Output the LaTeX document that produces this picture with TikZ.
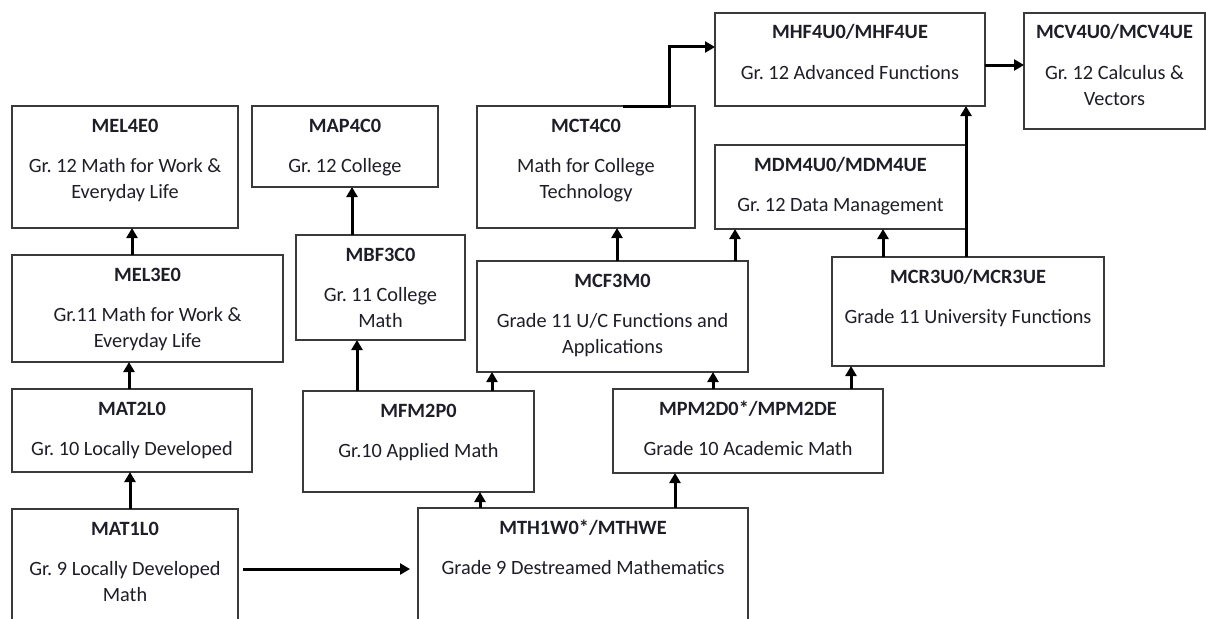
\documentclass[tikz,border=0pt]{standalone}
\usepackage{fontspec}
\setmainfont{Carlito}
\usetikzlibrary{arrows.meta}
\frenchspacing
\definecolor{edge}{HTML}{3A3A3A}
\definecolor{ink}{HTML}{1E1E28}
\tikzset{
  box/.style={draw=edge, line width=1.5pt, anchor=north west, inner sep=0pt, outer sep=0pt},
  txt/.style={text=ink, inner sep=0pt, align=center, font=\fontsize{20.3}{26}\selectfont},
  arr/.style={draw=black, line width=3pt, -{Triangle[length=10pt,width=11pt]}},
}
% \course{name}{left}{top}{right}{bottom}{code}{description}
% code baseline sits 26pt below the top edge, first description line 66pt below it
\newcommand\course[7]{%
  \node[box, minimum width={(#4-#2)*1pt}, minimum height={(#5-#3)*1pt}] (#1) at (#2,#3) {};
  \node[txt, anchor=base] (#1-t) at ([yshift=-26pt]#1.north) {\textbf{#6}};
  \node[txt, anchor=north] (#1-b) at ([yshift=-47.8pt]#1.north) {\strut#7};
}
\begin{document}
\begin{tikzpicture}[x=1pt, y=-1pt]
\useasboundingbox (0,0) rectangle (1206,618);
\clip (0,0) rectangle (1206,618);
\fill[white] (0,0) rectangle (1206,618);

% grade 12
\course{mel4}{12}{106}{238}{228}{MEL4E0}{Gr. 12 Math for Work \&\\Everyday Life}
\course{map4}{252}{106}{438}{187}{MAP4C0}{Gr. 12 College}
\course{mct4}{477}{106}{695}{228}{MCT4C0}{Math for College\\Technology}
\course{mhf4}{715}{13}{985}{106}{MHF4U0/MHF4UE}{Gr. 12 Advanced Functions}
\course{mdm4}{715}{145}{966}{229}{MDM4U0/MDM4UE}{Gr. 12 Data Management}
\course{mcv4}{1024}{13}{1205}{129}{MCV4U0/MCV4UE}{Gr. 12 Calculus \&\\Vectors}
% grade 11
\course{mel3}{12}{255}{283}{362}{MEL3E0}{Gr.11 Math for Work \&\\Everyday Life}
\course{mbf3}{296}{235}{465}{340}{MBF3C0}{Gr. 11 College\\Math}
\course{mcf3}{477}{261}{748}{372}{MCF3M0}{Grade 11 U/C Functions and\\Applications}
\course{mcr3}{832}{257}{1104}{366}{MCR3U0/MCR3UE}{Grade 11 University Functions}
% grade 10
\course{mat2}{12}{389}{252}{472}{MAT2L0}{Gr. 10 Locally Developed}
\course{mfm2}{303}{391}{534}{492}{MFM2P0}{Gr.10 Applied Math}
\course{mpm2}{613}{389}{883}{473}{MPM2D0*/MPM2DE}{Grade 10 Academic Math}
% grade 9
\course{mat1}{12}{509}{238}{640}{MAT1L0}{Gr. 9 Locally Developed\\Math}
\course{mth1}{418}{508}{748}{640}{MTH1W0*/MTHWE}{Grade 9 Destreamed Mathematics}

% pathways
\draw[arr] ([xshift=120pt]mel3.north west) -- ([xshift=120pt]mel4.south west);
\draw[arr] ([xshift=117pt]mat2.north west) -- ([xshift=117pt]mel3.south west);
\draw[arr] ([xshift=118pt]mat1.north west) -- ([xshift=118pt]mat2.south west);
\draw[arr] ([xshift=5pt,yshift=-60pt]mat1.north east) -- ([xshift=-8pt,yshift=-61pt]mth1.north west);
\draw[arr] ([xshift=54pt]mfm2.north west) -- ([xshift=61pt]mbf3.south west);
\draw[arr] ([xshift=56pt]mbf3.north west) -- ([xshift=100pt]map4.south west);
\draw[arr] ([xshift=62pt]mth1.north west) -- ([xshift=177pt]mfm2.south west);
\draw[arr] ([xshift=257pt]mth1.north west) -- ([xshift=62pt]mpm2.south west);
\draw[arr] ([xshift=189pt]mfm2.north west) -- ([xshift=15pt]mcf3.south west);
\draw[arr] ([xshift=100pt]mpm2.north west) -- ([xshift=236pt]mcf3.south west);
\draw[arr] ([xshift=238pt]mpm2.north west) -- ([xshift=19pt]mcr3.south west);
\draw[arr] ([xshift=140pt]mcf3.north west) -- ([xshift=140pt]mct4.south west);
\draw[arr] ([xshift=258pt]mcf3.north west) -- ([xshift=20pt]mdm4.south west);
\draw[arr] ([xshift=51pt]mcr3.north west) -- ([xshift=168pt]mdm4.south west);
\draw[arr] ([xshift=134pt]mcr3.north west) -- ([xshift=251pt]mhf4.south west);
\draw[arr] ([xshift=146pt]mct4.north west) -- ([xshift=192pt]mct4.north west) |- ([yshift=-34pt]mhf4.north west);
\draw[arr] ([yshift=-52pt]mhf4.north east) -- ([yshift=-52pt]mcv4.north west);
\end{tikzpicture}
\end{document}
